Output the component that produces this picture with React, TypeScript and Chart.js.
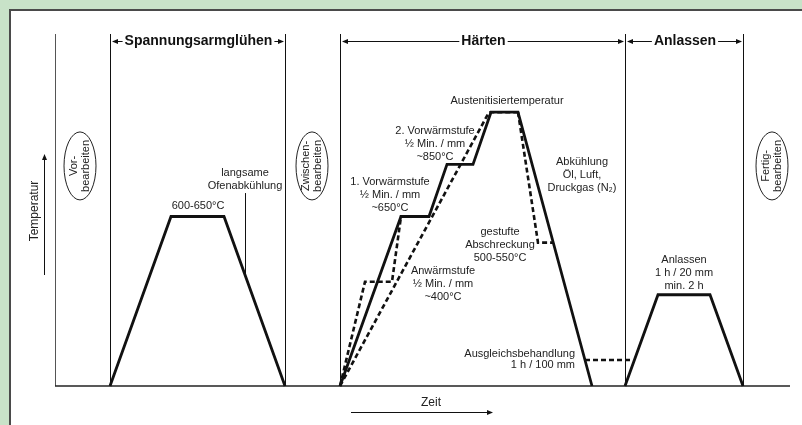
import React, { useEffect, useRef } from "react";
import { Chart, registerables } from "chart.js";

Chart.register(...registerables);

// ---- data (time in arbitrary units, temperature in °C) ----
const reliefTime = [55, 116, 169, 230];
const reliefTemp = [0, 650, 650, 0];

const hardenTime = [285, 346, 374, 392, 418, 436, 463, 537];
const hardenTemp = [0, 650, 650, 850, 850, 1050, 1050, 0];

const preheatTime = [285, 310, 337, 346, 372];
const preheatTemp = [0, 400, 400, 650, 650];

const directTime = [285, 434, 463];
const directTemp = [0, 1050, 1050];

const quenchTime = [463, 483, 498];
const quenchTemp = [1050, 550, 550];

const equalizeTime = [530, 578];
const equalizeTemp = [100, 100];

const temperTime = [570, 603, 655, 688];
const temperTemp = [0, 350, 350, 0];

const sectionBounds = [55, 230, 285, 570, 688];
const sectionTitles = ["Spannungsarmglühen", "Härten", "Anlassen"];
const sectionFrom = [55, 285, 570];
const sectionTo = [230, 570, 688];

const ovalTime = [25, 257, 717];
const ovalText = [["Vor-", "bearbeiten"], ["Zwischen-", "bearbeiten"], ["Fertig-", "bearbeiten"]];

const noteTime = [143, 190, 452, 380, 335, 388, 445, 527, 520, 629];
const noteTemp = [690, 817, 1093, 978, 782, 441, 591, 859, 123, 483];
const noteText = [
  ["600-650°C"],
  ["langsame", "Ofenabkühlung"],
  ["Austenitisiertemperatur"],
  ["2. Vorwärmstufe", "½ Min. / mm", "~850°C"],
  ["1. Vorwärmstufe", "½ Min. / mm", "~650°C"],
  ["Anwärmstufe", "½ Min. / mm", "~400°C"],
  ["gestufte", "Abschreckung", "500-550°C"],
  ["Abkühlung", "Öl, Luft,", "Druckgas (N₂)"],
  ["Ausgleichsbehandlung", "1 h / 100 mm"],
  ["Anlassen", "1 h / 20 mm", "min. 2 h"],
];
const noteAlign = ["center", "center", "center", "center", "center", "center", "center", "center", "right", "center"];

const leaderTime = 190;
const leaderTemp = [740, 426];

const FONT = "'Liberation Sans', Arial, Helvetica, sans-serif";

const pts = (xs: number[], ys: number[]) => xs.map((x, i) => ({ x, y: ys[i] }));

function arrowHead(ctx: CanvasRenderingContext2D, x: number, y: number, dir: "l" | "r" | "u") {
  ctx.beginPath();
  if (dir === "l") {
    ctx.moveTo(x, y);
    ctx.lineTo(x + 6, y - 2.5);
    ctx.lineTo(x + 6, y + 2.5);
  } else if (dir === "r") {
    ctx.moveTo(x, y);
    ctx.lineTo(x - 6, y - 2.5);
    ctx.lineTo(x - 6, y + 2.5);
  } else {
    ctx.moveTo(x, y);
    ctx.lineTo(x - 2.5, y + 6);
    ctx.lineTo(x + 2.5, y + 6);
  }
  ctx.closePath();
  ctx.fill();
}

const diagramPlugin = {
  id: "diagram",
  beforeDraw(chart: any) {
    const { ctx, width, height } = chart;
    ctx.save();
    ctx.fillStyle = "#c8e2c8";
    ctx.fillRect(0, 0, width, height);
    ctx.fillStyle = "#ffffff";
    ctx.fillRect(10, 10, width - 10, height - 10);
    ctx.strokeStyle = "#4a4a4a";
    ctx.lineWidth = 2;
    ctx.beginPath();
    ctx.moveTo(10, height);
    ctx.lineTo(10, 10);
    ctx.lineTo(width, 10);
    ctx.stroke();
    ctx.restore();
  },
  beforeDatasetsDraw(chart: any) {
    const { ctx, chartArea } = chart;
    const xs = chart.scales.x;
    const ys = chart.scales.y;
    const { left, right, top, bottom } = chartArea;
    ctx.save();
    // y axis
    ctx.strokeStyle = "#555";
    ctx.lineWidth = 1;
    ctx.beginPath();
    ctx.moveTo(left + 0.5, top);
    ctx.lineTo(left + 0.5, bottom);
    ctx.stroke();
    // section lines
    ctx.strokeStyle = "#111";
    sectionBounds.forEach((b) => {
      const px = Math.round(xs.getPixelForValue(b)) + 0.5;
      ctx.beginPath();
      ctx.moveTo(px, top);
      ctx.lineTo(px, bottom);
      ctx.stroke();
    });
    // x axis
    ctx.strokeStyle = "#222";
    ctx.lineWidth = 1.5;
    ctx.beginPath();
    ctx.moveTo(left, bottom);
    ctx.lineTo(right, bottom);
    ctx.stroke();

    // section headings
    const hy = top + 7;
    ctx.font = `bold 14px ${FONT}`;
    ctx.fillStyle = "#111";
    ctx.textAlign = "center";
    ctx.textBaseline = "middle";
    ctx.lineWidth = 1;
    sectionTitles.forEach((t, i) => {
      const a = xs.getPixelForValue(sectionFrom[i]) + 1;
      const b = xs.getPixelForValue(sectionTo[i]) - 1;
      const c = (a + b) / 2 + 1;
      const w = ctx.measureText(t).width;
      ctx.fillText(t, c, hy + 0.5);
      ctx.strokeStyle = "#111";
      ctx.beginPath();
      ctx.moveTo(a + 4, hy + 0.5);
      ctx.lineTo(c - w / 2 - 2, hy + 0.5);
      ctx.moveTo(c + w / 2 + 2, hy + 0.5);
      ctx.lineTo(b - 4, hy + 0.5);
      ctx.stroke();
      arrowHead(ctx, a + 1, hy + 0.5, "l");
      arrowHead(ctx, b, hy + 0.5, "r");
    });

    // ovals
    ctx.font = `11px ${FONT}`;
    ovalTime.forEach((t, i) => {
      const cx = xs.getPixelForValue(t);
      const cy = ys.getPixelForValue(844);
      ctx.strokeStyle = "#222";
      ctx.lineWidth = 1;
      ctx.beginPath();
      ctx.ellipse(cx, cy, 16, 34, 0, 0, Math.PI * 2);
      ctx.stroke();
      ctx.save();
      ctx.translate(cx, cy);
      ctx.rotate(-Math.PI / 2);
      ctx.fillStyle = "#222";
      ctx.textAlign = "center";
      ctx.textBaseline = "middle";
      ctx.fillText(ovalText[i][0], 0, -6);
      ctx.fillText(ovalText[i][1], 0, 6);
      ctx.restore();
    });

    // axis titles
    ctx.fillStyle = "#222";
    ctx.strokeStyle = "#111";
    ctx.font = `12px ${FONT}`;
    ctx.save();
    ctx.translate(left - 20, 211);
    ctx.rotate(-Math.PI / 2);
    ctx.textAlign = "center";
    ctx.textBaseline = "middle";
    ctx.fillText("Temperatur", 0, 0);
    ctx.restore();
    ctx.lineWidth = 1;
    ctx.beginPath();
    ctx.moveTo(left - 10.5, 275);
    ctx.lineTo(left - 10.5, 160);
    ctx.stroke();
    ctx.fillStyle = "#111";
    arrowHead(ctx, left - 10.5, 154, "u");

    ctx.fillStyle = "#222";
    ctx.textAlign = "center";
    ctx.textBaseline = "middle";
    ctx.fillText("Zeit", 431, bottom + 17);
    ctx.beginPath();
    ctx.moveTo(351, bottom + 26.5);
    ctx.lineTo(487, bottom + 26.5);
    ctx.stroke();
    ctx.fillStyle = "#111";
    arrowHead(ctx, 493, bottom + 26.5, "r");

    // leader line
    ctx.strokeStyle = "#111";
    ctx.lineWidth = 1;
    const lx = Math.round(xs.getPixelForValue(leaderTime)) + 0.5;
    ctx.beginPath();
    ctx.moveTo(lx, ys.getPixelForValue(leaderTemp[0]));
    ctx.lineTo(lx, ys.getPixelForValue(leaderTemp[1]));
    ctx.stroke();
    ctx.restore();
  },
  afterDatasetsDraw(chart: any) {
    const { ctx } = chart;
    const xs = chart.scales.x;
    const ys = chart.scales.y;
    ctx.save();
    ctx.font = `11px ${FONT}`;
    ctx.fillStyle = "#222";
    ctx.textBaseline = "middle";
    noteText.forEach((lines, i) => {
      const px = xs.getPixelForValue(noteTime[i]);
      const py = ys.getPixelForValue(noteTemp[i]);
      ctx.textAlign = noteAlign[i] as CanvasTextAlign;
      const lh = noteAlign[i] === "right" ? 11.5 : 12.8;
      lines.forEach((l, j) => ctx.fillText(l, px, py + j * lh));
    });
    ctx.restore();
  },
};

export default function App() {
  const ref = useRef<HTMLCanvasElement | null>(null);
  useEffect(() => {
    if (!ref.current) return;
    const solid = { borderColor: "#111", borderWidth: 2.8, borderJoinStyle: "miter" as const };
    const dashed = { borderColor: "#111", borderWidth: 2.6, borderDash: [5, 3], borderJoinStyle: "miter" as const };
    const common = { showLine: true, pointRadius: 0, tension: 0, clip: false as any, fill: false };
    const chart = new Chart(ref.current, {
      type: "scatter",
      data: {
        datasets: [
          { label: "Spannungsarmglühen", data: pts(reliefTime, reliefTemp), ...common, ...solid },
          { label: "Härten", data: pts(hardenTime, hardenTemp), ...common, ...solid },
          { label: "Anwärmstufe", data: pts(preheatTime, preheatTemp), ...common, ...dashed },
          { label: "Direkt", data: pts(directTime, directTemp), ...common, ...dashed },
          { label: "Gestufte Abschreckung", data: pts(quenchTime, quenchTemp), ...common, ...dashed },
          { label: "Ausgleichsbehandlung", data: pts(equalizeTime, equalizeTemp), ...common, ...dashed },
          { label: "Anlassen", data: pts(temperTime, temperTemp), ...common, ...solid },
        ],
      },
      options: {
        animation: false,
        responsive: false,
        maintainAspectRatio: false,
        layout: { padding: { left: 55, right: 12, top: 34, bottom: 39 } },
        scales: {
          x: { type: "linear", min: 0, max: 735, display: false },
          y: { type: "linear", min: 0, max: 1350, display: false },
        },
        plugins: { legend: { display: false }, tooltip: { enabled: false } },
        events: [],
      },
      plugins: [diagramPlugin],
    });
    return () => chart.destroy();
  }, []);
  return (
    <div style={{ position: "fixed", left: 0, top: 0, width: 802, height: 425 }}>
      <canvas ref={ref} width={802} height={425} style={{ display: "block" }} />
    </div>
  );
}
